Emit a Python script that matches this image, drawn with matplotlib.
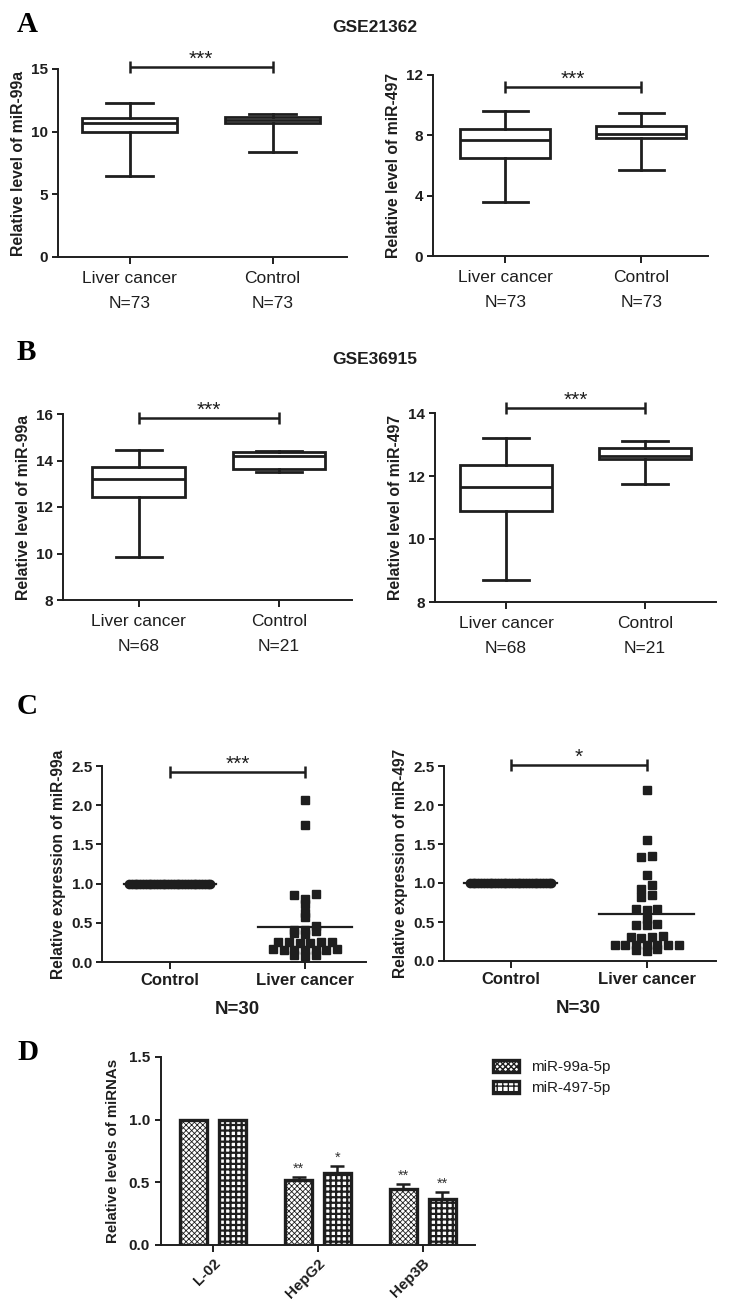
import numpy as np
import matplotlib
matplotlib.use('Agg')
import matplotlib.pyplot as plt
from matplotlib import font_manager

# ---------------- data ----------------
groups_AB = ['Liver cancer', 'Control']
a_n = ['N=73', 'N=73']
a99_whislo = [6.5, 8.4]
a99_q1 = [10.0, 10.7]
a99_med = [10.7, 10.9]
a99_q3 = [11.1, 11.2]
a99_whishi = [12.3, 11.4]
a497_whislo = [3.6, 5.7]
a497_q1 = [6.5, 7.8]
a497_med = [7.7, 8.1]
a497_q3 = [8.4, 8.6]
a497_whishi = [9.6, 9.5]

b_n = ['N=68', 'N=21']
b99_whislo = [9.85, 13.5]
b99_q1 = [12.45, 13.65]
b99_med = [13.2, 14.2]
b99_q3 = [13.7, 14.35]
b99_whishi = [14.45, 14.4]
b497_whislo = [8.7, 11.75]
b497_q1 = [10.9, 12.55]
b497_med = [11.65, 12.65]
b497_q3 = [12.35, 12.9]
b497_whishi = [13.2, 13.1]

groups_C = ['Control', 'Liver cancer']
c_n = 'N=30'
c99_control = [1.0] * 30
c99_cancer = [2.06, 1.745, 0.87, 0.85, 0.80, 0.74, 0.63, 0.57, 0.46, 0.41,
              0.41, 0.39, 0.37, 0.36, 0.25, 0.25, 0.24, 0.25, 0.24, 0.25,
              0.15, 0.15, 0.16, 0.15, 0.15, 0.16, 0.15, 0.09, 0.09, 0.08]
c497_control = [1.0] * 30
c497_cancer = [2.19, 1.55, 1.34, 1.33, 1.10, 0.98, 0.92, 0.85, 0.82, 0.67,
               0.67, 0.65, 0.54, 0.47, 0.46, 0.46, 0.32, 0.31, 0.31, 0.30,
               0.21, 0.21, 0.20, 0.20, 0.20, 0.20, 0.20, 0.15, 0.14, 0.13]

d_cells = ['L-02', 'HepG2', 'Hep3B']
d_series = ['miR-99a-5p', 'miR-497-5p']
d99 = [1.0, 0.52, 0.445]
d99_err = [0.0, 0.02, 0.04]
d497 = [1.0, 0.575, 0.365]
d497_err = [0.0, 0.055, 0.06]
d99_sig = ['', '**', '**']
d497_sig = ['', '*', '**']

# ---------------- style ----------------
names = {f.name for f in font_manager.fontManager.ttflist}
SANS = 'Liberation Sans' if 'Liberation Sans' in names else 'DejaVu Sans'
NARROW = 'Liberation Sans Narrow' if 'Liberation Sans Narrow' in names else SANS
SERIF = 'Liberation Serif' if 'Liberation Serif' in names else 'DejaVu Serif'
plt.rcParams['font.family'] = [SANS, 'DejaVu Sans']
INK = '#1e1e1e'
LW = 2.0

fig = plt.figure(figsize=(7.36, 13.07), dpi=100)
W, H = 736.0, 1307.0


def add_ax(x0, x1, ytop, ybot):
    return fig.add_axes([x0 / W, 1 - ybot / H, (x1 - x0) / W, (ybot - ytop) / H])


def style(ax, lw=1.4):
    for s in ['top', 'right']:
        ax.spines[s].set_visible(False)
    for s in ['left', 'bottom']:
        ax.spines[s].set_linewidth(lw)
        ax.spines[s].set_color(INK)
    ax.tick_params(direction='out', length=4.5, width=lw, colors=INK)


def sigbar(ax, x1, x2, y, text, fs=15):
    ax.plot([x1, x2], [y, y], color=INK, lw=1.8, clip_on=False,
            solid_capstyle='butt')
    ax.plot([x1, x2], [y, y], ls='none', marker='|', ms=9, mew=1.8,
            color=INK, clip_on=False)
    ax.annotate(text, xy=((x1 + x2) / 2, y), xytext=(0, -1),
                textcoords='offset points', ha='center', va='bottom',
                fontsize=fs, color=INK, annotation_clip=False)


def box_panel(ax, whislo, q1, med, q3, whishi, ylim, yticks, ylabel,
              ntext, xlim, sig_y):
    stats = [dict(whislo=whislo[i], q1=q1[i], med=med[i], q3=q3[i],
                  whishi=whishi[i], fliers=[]) for i in range(len(med))]
    ax.bxp(stats, positions=[0, 1], widths=0.66, capwidths=0.33,
           patch_artist=True, showfliers=False,
           boxprops=dict(facecolor='white', edgecolor=INK, linewidth=LW),
           medianprops=dict(color=INK, linewidth=LW),
           whiskerprops=dict(color=INK, linewidth=LW),
           capprops=dict(color=INK, linewidth=LW))
    ax.set_xlim(*xlim)
    ax.set_ylim(*ylim)
    ax.set_yticks(yticks)
    ax.set_xticks([0, 1])
    ax.set_xticklabels(groups_AB, fontsize=12.5, color=INK)
    for t in ax.get_yticklabels():
        t.set_fontweight('bold')
        t.set_fontsize(11)
    ax.set_ylabel(ylabel, fontsize=11.3, fontweight='bold', color=INK,
                  labelpad=4)
    style(ax)
    ax.tick_params(axis='x', length=5, pad=5)
    ax.tick_params(axis='y', pad=2.5)
    for i, t in enumerate(ntext):
        ax.annotate(t, xy=(i, 0), xycoords=('data', 'axes fraction'),
                    xytext=(0, -33.5), textcoords='offset points',
                    ha='center', va='center', fontsize=12.5, color=INK)
    sigbar(ax, 0, 1, sig_y, '***')


# Panel A
axA1 = add_ax(58, 347, 69, 257)
box_panel(axA1, a99_whislo, a99_q1, a99_med, a99_q3, a99_whishi, (0, 15),
          [0, 5, 10, 15], 'Relative level of miR-99a', a_n, (-0.5, 1.52), 15.15)
axA2 = add_ax(433, 708, 75, 256)
box_panel(axA2, a497_whislo, a497_q1, a497_med, a497_q3, a497_whishi, (0, 12),
          [0, 4, 8, 12], 'Relative level of miR-497', a_n, (-0.53, 1.49), 11.2)

# Panel B
axB1 = add_ax(63, 352, 414, 600)
box_panel(axB1, b99_whislo, b99_q1, b99_med, b99_q3, b99_whishi, (8, 16),
          [8, 10, 12, 14, 16], 'Relative level of miR-99a', b_n, (-0.54, 1.52), 15.83)
axB2 = add_ax(435, 716, 413, 602)
box_panel(axB2, b497_whislo, b497_q1, b497_med, b497_q3, b497_whishi, (8, 14),
          [8, 10, 12, 14], 'Relative level of miR-497', b_n, (-0.51, 1.51), 14.16)

fig.text(375 / W, 1 - 27 / H, 'GSE21362', ha='center', va='center',
         fontsize=12.5, fontweight='bold', color=INK)
fig.text(375 / W, 1 - 360 / H, 'GSE36915', ha='center', va='center',
         fontsize=12.5, fontweight='bold', color=INK)


# Panel C: column-scatter layout (values binned into rows, spread symmetrically)
def column_x(ax, values, pos, row_h=0.1, col_px=10.7):
    bbox = ax.get_window_extent()
    xlo, xhi = ax.get_xlim()
    px = bbox.width / (xhi - xlo)
    vals = np.asarray(values, dtype=float)
    rows = np.floor(vals / row_h + 1e-6).astype(int)
    xs = np.full(len(vals), float(pos))
    for r in np.unique(rows):
        idx = np.where(rows == r)[0]
        idx = idx[np.argsort(vals[idx])]
        n = len(idx)
        slots = np.arange(n) - (n - 1) / 2.0
        order = np.argsort(np.abs(slots), kind='stable')
        for k, i in enumerate(idx):
            xs[i] = pos + slots[order[k]] * col_px / px
    return xs


def scatter_panel(ax, control, cancer, ylabel, xlim, sig_y, sig_text):
    ax.set_xlim(*xlim)
    ax.set_ylim(0, 2.5)
    ctrl = np.asarray(control, dtype=float)
    xc = np.linspace(-0.3, 0.3, len(ctrl))
    ax.plot(xc, ctrl, ls='none', marker='o', ms=6, color=INK, clip_on=False)
    ax.plot([-0.34, 0.34], [ctrl.mean()] * 2, color=INK, lw=1.6)
    xs = column_x(ax, cancer, 1.0)
    ax.plot(xs, cancer, ls='none', marker='s', ms=5.8, color=INK, clip_on=False)
    m = float(np.mean(cancer))
    ax.plot([1 - 0.35, 1 + 0.35], [m, m], color=INK, lw=1.6)
    ax.set_xticks([0, 1])
    ax.set_xticklabels(groups_C, fontsize=12, fontweight='bold',
                       family=[NARROW, SANS], color=INK)
    ax.set_yticks([0, 0.5, 1.0, 1.5, 2.0, 2.5])
    ax.set_yticklabels(['0.0', '0.5', '1.0', '1.5', '2.0', '2.5'],
                       fontsize=11, fontweight='bold', family=[NARROW, SANS],
                       color=INK)
    ax.set_ylabel(ylabel, fontsize=11.2, fontweight='bold', color=INK,
                  labelpad=4)
    style(ax)
    ax.tick_params(axis='x', length=5, pad=3)
    ax.tick_params(axis='y', pad=2)
    ax.annotate(c_n, xy=(0.5, 0), xycoords=('data', 'axes fraction'),
                xytext=(0, -34), textcoords='offset points', ha='center',
                va='center', fontsize=13.5, fontweight='bold',
                family=[NARROW, SANS], color=INK)
    sigbar(ax, 0, 1, sig_y, sig_text)


axC1 = add_ax(102, 366, 766, 962)
scatter_panel(axC1, c99_control, c99_cancer, 'Relative expression of miR-99a',
              (-0.5, 1.45), 2.42, '***')
axC2 = add_ax(444, 716, 766, 961)
scatter_panel(axC2, c497_control, c497_cancer, 'Relative expression of miR-497',
              (-0.49, 1.51), 2.51, '*')

# Panel D
axD = add_ax(161, 475, 1057, 1245)
x = np.arange(len(d_cells))
bw = 0.26
off = 0.186
with plt.rc_context({'hatch.linewidth': 0.6}):
    b1 = axD.bar(x - off, d99, bw, yerr=[np.zeros(len(d99)), d99_err],
                 color='white', edgecolor=INK, linewidth=2.4, hatch='xxxxxx',
                 error_kw=dict(ecolor=INK, elinewidth=1.8, capsize=5,
                               capthick=1.8), label=d_series[0], zorder=3)
with plt.rc_context({'hatch.linewidth': 1.6}):
    b2 = axD.bar(x + off, d497, bw, yerr=[np.zeros(len(d497)), d497_err],
                 color='white', edgecolor=INK, linewidth=2.4, hatch='+++',
                 error_kw=dict(ecolor=INK, elinewidth=1.8, capsize=5,
                               capthick=1.8), label=d_series[1], zorder=3)
for xi, v, e, s in zip(x - off, d99, d99_err, d99_sig):
    if s:
        axD.annotate(s, xy=(xi, v + e), xytext=(0, 1), textcoords='offset points',
                     ha='center', va='bottom', fontsize=10.5, color='#333333')
for xi, v, e, s in zip(x + off, d497, d497_err, d497_sig):
    if s:
        axD.annotate(s, xy=(xi, v + e), xytext=(0, 1), textcoords='offset points',
                     ha='center', va='bottom', fontsize=10.5, color='#333333')
axD.set_xlim(-0.5, 2.5)
axD.set_ylim(0, 1.5)
axD.set_yticks([0, 0.5, 1.0, 1.5])
axD.set_yticklabels(['0.0', '0.5', '1.0', '1.5'], fontsize=11,
                    fontweight='bold', color=INK)
axD.set_xticks(x)
axD.set_xticklabels(d_cells, rotation=45, ha='right', rotation_mode='anchor',
                    fontsize=11, fontweight='bold', color=INK)
axD.set_ylabel('Relative levels of miRNAs', fontsize=10.8, fontweight='bold',
               color=INK, labelpad=6)
style(axD)
axD.tick_params(axis='x', length=5, pad=3)

leg = fig.legend(handles=[b1, b2], labels=d_series, loc='upper left',
                 bbox_to_anchor=(493 / W, 1 - 1060 / H), frameon=False,
                 fontsize=11, handlelength=1.7, handleheight=0.8,
                 handletextpad=0.8, labelspacing=0.45, borderpad=0,
                 borderaxespad=0)
for t in leg.get_texts():
    t.set_color(INK)

# Panel letters
for letter, yy in [('A', 25), ('B', 352), ('C', 707), ('D', 1052)]:
    fig.text(17 / W, 1 - yy / H, letter, ha='left', va='center', fontsize=21,
             fontweight='bold', family=SERIF, color='black')

fig.savefig('out.png', dpi=100)
